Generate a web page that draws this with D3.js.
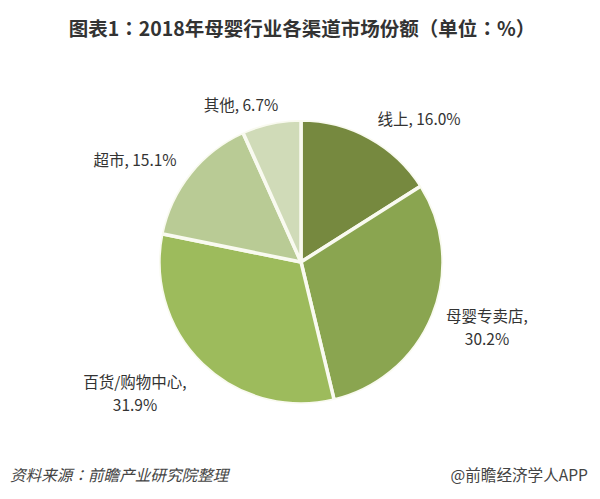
<!DOCTYPE html>
<html><head><meta charset="utf-8">
<script src="https://cdn.jsdelivr.net/npm/d3@7"></script>
<style>
html,body{margin:0;padding:0;background:#fff;overflow:hidden}
text{font-family:"Noto Sans CJK SC","Open Sans",sans-serif}
.p{font-family:"Noto Sans CJK TC","Open Sans",sans-serif}
</style></head><body>
<svg id="c" width="600" height="499"></svg>
<script>
const categories=["线上","母婴专卖店","百货/购物中心","超市","其他"];
const values=[16.0,30.2,31.9,15.1,6.7];
const valueLabels=["16.0%","30.2%","31.9%","15.1%","6.7%"];
const colors=["#76893f","#8aa550","#9dbb5c","#b9cb95","#d0dbb8"];
const labelLayout=[
 {x:419,y:125,lines:1},
 {x:487,y:322,lines:2},
 {x:135,y:388,lines:2},
 {x:135,y:166,lines:1},
 {x:241,y:111,lines:1}
];
const titleParts=["图表1","：","2018年母婴行业各渠道市场份额（单位","：","%）"];
const sourceParts=["资料来源","：","前瞻产业研究院整理"];
const svg=d3.select("#c");
const g=svg.append("g").attr("transform","translate(301,262)");
const pie=d3.pie().sort(null).value(d=>d);
const arc=d3.arc().innerRadius(0).outerRadius(142);
g.selectAll("path").data(pie(values)).join("path")
 .attr("d",arc).attr("fill",(d,i)=>colors[i])
 .attr("stroke","#f9faf0").attr("stroke-width",3.5).attr("stroke-linejoin","round");
g.append("circle").attr("r",143.5).attr("fill","none").attr("stroke","#fff").attr("stroke-width",3);
function parts(t,arr){arr.forEach(s=>t.append("tspan").attr("class",s==="："?"p":null).text(s));}
parts(svg.append("text").attr("x",302).attr("y",36).attr("text-anchor","middle")
 .attr("font-size",19.5).attr("font-weight",700).attr("fill","#333"),titleParts);
labelLayout.forEach((l,i)=>{
 const t=svg.append("text").attr("x",l.x).attr("y",l.y).attr("text-anchor","middle")
  .attr("font-size",15.5).attr("fill","#333");
 if(l.lines===1){t.text(categories[i]+", "+valueLabels[i]);}
 else{
  t.append("tspan").attr("x",l.x).text(categories[i]+",");
  t.append("tspan").attr("x",l.x).attr("dy",23).text(valueLabels[i]);
 }
});
parts(svg.append("text").attr("x",10).attr("y",481).attr("font-size",15.6).attr("font-style","italic").attr("fill","#444"),sourceParts);
svg.append("text").attr("x",588).attr("y",481).attr("text-anchor","end").attr("font-size",15.6).attr("fill","#444")
 .text("@前瞻经济学人APP");
</script></body></html>
